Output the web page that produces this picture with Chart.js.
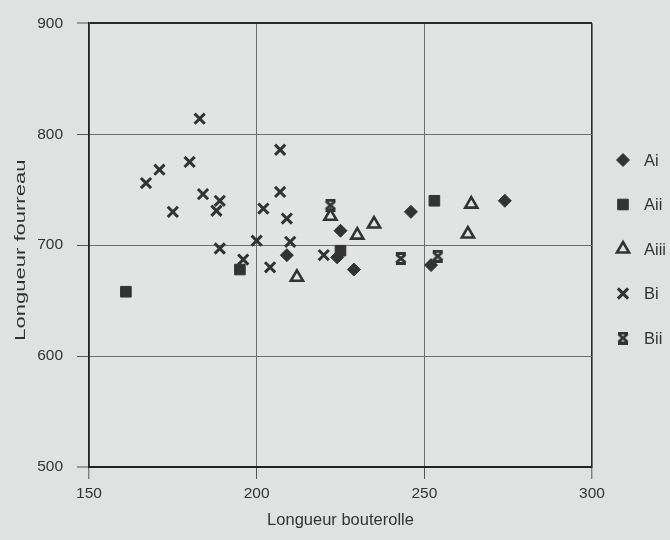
<!DOCTYPE html>
<html>
<head>
<meta charset="utf-8">
<script src="https://cdn.jsdelivr.net/npm/chart.js@4.4.1/dist/chart.umd.min.js"></script>
<style>
  html, body { margin: 0; padding: 0; background: #e0e2e2; }
  #wrap { width: 670px; height: 540px; }
</style>
</head>
<body>
<div id="wrap"><canvas id="scatter" width="670" height="540"></canvas></div>
<script>
// values (x = bouterolle, y = fourreau)
const seriesNames = ['Ai', 'Aii', 'Aiii', 'Bi', 'Bii'];
const aiX = [209, 224, 225, 229, 246, 252, 274];
const aiY = [691, 689, 713, 678, 730, 682, 740];
const aiiX = [161, 195, 225, 253];
const aiiY = [658, 678, 695, 740];
const aiiiX = [212, 222, 230, 235, 263, 264];
const aiiiY = [671, 726, 709, 719, 710, 737];
const biX = [167, 171, 175, 180, 183, 184, 188, 189, 189, 196, 200, 202, 204, 207, 207, 209, 210, 220];
const biY = [756, 768, 730, 775, 814, 746, 731, 740, 697, 687, 704, 733, 680, 786, 748, 724, 703, 691];
const biiX = [222, 243, 254];
const biiY = [736, 688, 690];
const xTicks = [150, 200, 250, 300];
const yTicks = [500, 600, 700, 800, 900];
const xTitle = 'Longueur bouterolle';
const yTitle = 'Longueur fourreau';

const ink = '#333333';
const font = 'Liberation Sans, Arial, sans-serif';

function pts(xs, ys) {
    return xs.map((x, i) => ({ x: x, y: ys[i] }));
}

// X with a bar on top and bottom, like the Bii marker
function barredCross(w, h, lw) {
    const c = document.createElement('canvas');
    c.width = w; c.height = h;
    const g = c.getContext('2d');
    g.strokeStyle = ink;
    g.lineWidth = lw;
    const m = 1.5;
    g.beginPath();
    g.moveTo(m, m + 1); g.lineTo(w - m, h - m - 1);
    g.moveTo(w - m, m + 1); g.lineTo(m, h - m - 1);
    g.moveTo(m - 0.5, m); g.lineTo(w - m + 0.5, m);
    g.moveTo(m - 0.5, h - m); g.lineTo(w - m + 0.5, h - m);
    g.stroke();
    return c;
}
const biiMarker = barredCross(12, 13, 3);

const plotBg = {
    id: 'plotBg',
    beforeDraw(chart) {
        const a = chart.chartArea, ctx = chart.ctx;
        ctx.save();
        ctx.fillStyle = '#e2e4e4';
        ctx.fillRect(a.left, a.top, a.right - a.left, a.bottom - a.top);
        ctx.restore();
    }
};

// the y title in the original is drawn noticeably wider than the other text
const yTitlePlugin = {
    id: 'yTitlePlugin',
    afterDraw(chart) {
        const a = chart.chartArea, ctx = chart.ctx;
        ctx.save();
        ctx.translate(21, (a.top + a.bottom) / 2 + 5);
        ctx.rotate(-Math.PI / 2);
        ctx.scale(1.42, 1);
        ctx.fillStyle = ink;
        ctx.font = '15.5px ' + font;
        ctx.textAlign = 'center';
        ctx.textBaseline = 'middle';
        ctx.fillText(yTitle, 0, 0);
        ctx.restore();
    }
};

// legend drawn by hand so it sits where the original has it
const sideLegend = {
    id: 'sideLegend',
    afterDraw(chart) {
        const ctx = chart.ctx;
        ctx.save();
        chart.data.datasets.forEach((ds, i) => {
            const y = 160 + i * 44.5;
            ctx.fillStyle = ds.backgroundColor;
            ctx.strokeStyle = ds.borderColor;
            ctx.lineWidth = ds.borderWidth;
            Chart.helpers.drawPoint(ctx, {
                pointStyle: ds.pointStyle,
                radius: ds.pointRadius,
                rotation: 0,
                borderWidth: ds.borderWidth
            }, 623, y);
            ctx.fillStyle = ink;
            ctx.font = '16.5px ' + font;
            ctx.textBaseline = 'middle';
            ctx.fillText(ds.label, 644, y + 1);
        });
        ctx.restore();
    }
};

const edge = (v, lo, hi) => v === lo || v === hi;

new Chart(document.getElementById('scatter'), {
    type: 'scatter',
    data: {
        datasets: [
            { label: seriesNames[0], data: pts(aiX, aiY), pointStyle: 'rectRot', pointRadius: 6.5,
              backgroundColor: ink, borderColor: ink, borderWidth: 1 },
            { label: seriesNames[1], data: pts(aiiX, aiiY), pointStyle: 'rect', pointRadius: 7.5,
              backgroundColor: ink, borderColor: ink, borderWidth: 1 },
            { label: seriesNames[2], data: pts(aiiiX, aiiiY), pointStyle: 'triangle', pointRadius: 7,
              backgroundColor: 'rgba(0,0,0,0)', borderColor: ink, borderWidth: 2.6 },
            { label: seriesNames[3], data: pts(biX, biY), pointStyle: 'crossRot', pointRadius: 7.2,
              backgroundColor: ink, borderColor: ink, borderWidth: 3 },
            { label: seriesNames[4], data: pts(biiX, biiY), pointStyle: biiMarker, pointRadius: 6,
              backgroundColor: ink, borderColor: ink, borderWidth: 3 }
        ]
    },
    options: {
        responsive: false,
        animation: false,
        events: [],
        layout: { padding: { top: 21, right: 78, left: 0, bottom: 0 } },
        plugins: {
            legend: { display: false },
            tooltip: { enabled: false }
        },
        scales: {
            x: {
                type: 'linear',
                min: 150,
                max: 300,
                afterBuildTicks: s => { s.ticks = xTicks.map(v => ({ value: v })); },
                afterFit: s => { s.height = 73; },
                ticks: { color: ink, font: { family: font, size: 15.5 }, padding: 5 },
                grid: {
                    color: c => edge(c.tick && c.tick.value, 150, 300) ? '#2a2a2a' : '#6e6e6e',
                    lineWidth: c => edge(c.tick && c.tick.value, 150, 300) ? 1.6 : 1,
                    tickLength: 12,
                    tickColor: '#555',
                    tickWidth: 1
                },
                border: { color: '#222', width: 2 },
                title: { display: true, text: xTitle, color: ink,
                         font: { family: font, size: 16.5 }, padding: { top: 0, bottom: 10 } }
            },
            y: {
                type: 'linear',
                min: 500,
                max: 900,
                afterBuildTicks: s => { s.ticks = yTicks.map(v => ({ value: v })); },
                afterFit: s => { s.width = 89; },
                ticks: { color: ink, font: { family: font, size: 15.5 }, padding: 14 },
                grid: {
                    color: c => edge(c.tick && c.tick.value, 500, 900) ? '#2a2a2a' : '#6e6e6e',
                    lineWidth: c => edge(c.tick && c.tick.value, 500, 900) ? 2 : 1,
                    tickLength: 12,
                    tickColor: '#555',
                    tickWidth: 1
                },
                border: { color: '#222', width: 1.6 }
            }
        }
    },
    plugins: [plotBg, yTitlePlugin, sideLegend]
});
</script>
</body>
</html>
